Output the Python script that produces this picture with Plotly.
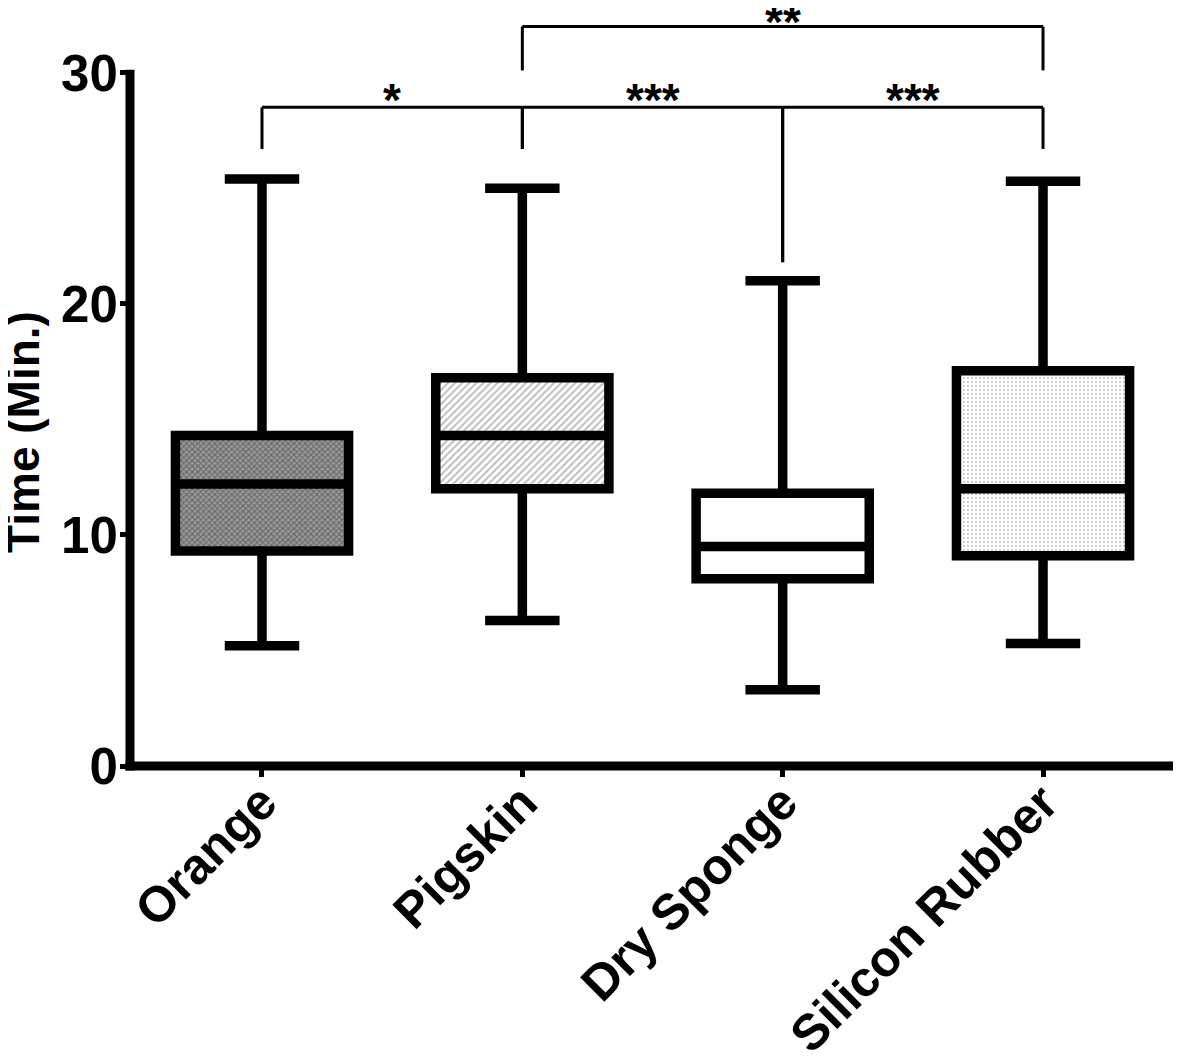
import plotly.graph_objects as go

categories = ["Orange", "Pigskin", "Dry Sponge", "Silicon Rubber"]
lower_whisker = [5.2, 6.3, 3.3, 5.3]
q1_values = [9.3, 12.0, 8.1, 9.1]
median_values = [12.2, 14.3, 9.5, 12.0]
q3_values = [14.3, 16.8, 11.8, 17.1]
upper_whisker = [25.4, 25.0, 21.0, 25.3]

y_ticks = [0, 10, 20, 30]
Y_MAX = 32.8

# significance brackets: (left index, right index, bar height, leg bottom left, leg bottom right, label)
brackets = [
    (0, 1, 28.5, 26.7, 26.7, "*"),
    (1, 2, 28.5, 26.7, 21.8, "***"),
    (2, 3, 28.5, 21.8, 26.7, "***"),
    (1, 3, 32.0, 30.1, 30.1, "**"),
]
label_shift = [7, 7, 7, 4]

FONT = "Liberation Sans, Arial, sans-serif"
W, H = 1173, 1051          # page body has an 8px margin
ML, MR, MT, MB = 122, 0, 0, 293
PLOT_H = H - MT - MB
PLOT_W = W - ML - MR
AXIS_LW = 9

fills = [
    dict(shape="x", fgcolor="#2e2e2e", bgcolor="#9a9a9a", size=4, solidity=0.45),
    dict(shape="/", fgcolor="#7a7a7a", bgcolor="#ffffff", size=5, solidity=0.4),
    dict(shape="", fgcolor="#ffffff", bgcolor="#ffffff", size=5, solidity=0.1),
    dict(shape=".", fgcolor="#9a9a9a", bgcolor="#ffffff", size=4, solidity=0.25),
]

BOX_W = 0.665

fig = go.Figure()
for i, c in enumerate(categories):
    fig.add_trace(go.Bar(
        x=[c], y=[q3_values[i] - q1_values[i]], base=[q1_values[i]],
        width=BOX_W, marker=dict(color="white", line=dict(width=0), pattern=fills[i]),
        showlegend=False, hoverinfo="skip",
    ))

fig.add_trace(go.Box(
    x=categories, q1=q1_values, median=median_values, q3=q3_values,
    lowerfence=lower_whisker, upperfence=upper_whisker,
    width=BOX_W, whiskerwidth=0.43, fillcolor="rgba(0,0,0,0)",
    line=dict(color="black", width=9.5), boxpoints=False, showlegend=False,
))

shapes = []
for li, ri, hy, lb, rb, lab in brackets:
    shapes.append(dict(type="line", xref="x", yref="y", x0=li, x1=ri, y0=hy, y1=hy,
                       line=dict(color="black", width=3)))
    shapes.append(dict(type="line", xref="x", yref="y", x0=li, x1=li, y0=lb, y1=hy,
                       line=dict(color="black", width=3)))
    shapes.append(dict(type="line", xref="x", yref="y", x0=ri, x1=ri, y0=rb, y1=hy,
                       line=dict(color="black", width=3)))

# axis lines centred on the plot edges; y axis only runs from 0 to 30
shapes.append(dict(type="line", xref="paper", yref="paper",
                   x0=-AXIS_LW / 2 / PLOT_W, x1=1, y0=0, y1=0,
                   line=dict(color="black", width=AXIS_LW)))
shapes.append(dict(type="line", xref="paper", yref="paper", x0=0, x1=0,
                   y0=-AXIS_LW / 2 / PLOT_H, y1=y_ticks[-1] / Y_MAX + 3.0 / PLOT_H,
                   line=dict(color="black", width=AXIS_LW)))

annotations = []
for (li, ri, hy, lb, rb, lab), ys in zip(brackets, label_shift):
    annotations.append(dict(x=(li + ri) / 2, y=hy, xref="x", yref="y", text=lab,
                            showarrow=False, yanchor="middle", yshift=ys,
                            font=dict(family=FONT, size=46, color="black", weight="bold")))

annotations.append(dict(x=(15 - ML) / PLOT_W, y=14.45, xref="paper", yref="y",
                        text="Time (Min.)", textangle=-90, showarrow=False,
                        xanchor="center", yanchor="middle",
                        font=dict(family=FONT, size=46, color="black", weight="bold")))

fig.update_layout(
    width=W, height=H,
    margin=dict(l=ML, r=MR, t=MT, b=MB, autoexpand=False),
    plot_bgcolor="white", paper_bgcolor="white",
    barmode="overlay",
    shapes=shapes, annotations=annotations,
    showlegend=False,
)
fig.update_xaxes(
    type="category", categoryorder="array", categoryarray=categories,
    range=[-0.507, 3.53], showline=False,
    ticks="outside", ticklen=10, tickwidth=5, tickcolor="black",
    tickangle=-45, showgrid=False, zeroline=False, automargin=False,
    ticklabelstandoff=-24,
    tickfont=dict(family=FONT, size=50, color="black", weight="bold"),
)
fig.update_yaxes(
    range=[0, Y_MAX], tickvals=y_ticks, showline=False,
    ticks="outside", ticklen=9, tickwidth=5, tickcolor="black",
    showgrid=False, zeroline=False, automargin=False,
    ticklabelstandoff=-8,
    tickfont=dict(family=FONT, size=51, color="black", weight="bold"),
)

fig.write_html("out.html")
